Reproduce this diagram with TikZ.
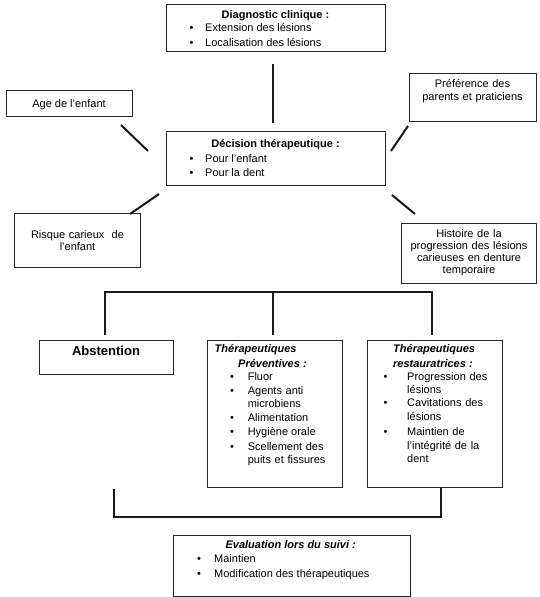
\documentclass[tikz,border=0pt]{standalone}
\usepackage{fontspec}
\setmainfont{Liberation Sans}
\begin{document}
\begin{tikzpicture}[x=1pt,y=-1pt,
  box/.style={draw=black!85, line width=1pt, anchor=north west, inner sep=0pt},
  conn/.style={line width=2pt, black!90},
  txt/.style={font=\fontsize{11}{12.5}\selectfont, inner sep=0pt},
  lft/.style={txt, anchor=base west, align=left},
  mlft/.style={txt, anchor=base west, align=left, text width=92pt},
  ctr/.style={txt, anchor=base, align=center},
  bul/.style={txt, anchor=base}
]
\useasboundingbox (0,0) rectangle (539,597);
% boxes
\node[box, minimum width=219pt, minimum height=47pt] (diag) at (166,4) {};
\node[box, minimum width=126pt, minimum height=26pt] (age) at (6,90) {};
\node[box, minimum width=127pt, minimum height=48pt] (pref) at (409,73) {};
\node[box, minimum width=219pt, minimum height=54pt] (dec) at (166,131) {};
\node[box, minimum width=126pt, minimum height=54pt] (risk) at (14,213) {};
\node[box, minimum width=135pt, minimum height=60pt] (hist) at (401,223) {};
\node[box, minimum width=134pt, minimum height=34pt] (abst) at (39,340) {};
\node[box, minimum width=135pt, minimum height=147pt] (prev) at (207,340) {};
\node[box, minimum width=135pt, minimum height=147pt] (rest) at (367,340) {};
\node[box, minimum width=237pt, minimum height=61pt] (eval) at (173,535) {};
% texts
\node[ctr, font=\fontsize{11}{12.5}\selectfont\bfseries] (diagT) at (275.5,18.3) {Diagnostic clinique :};
\node[bul] (diagB1) at (191.5,31.5) {•};
\node[lft] (diagI1) at (205,31.5) {Extension des lésions};
\node[bul] (diagB2) at (191.5,46.5) {•};
\node[lft] (diagI2) at (205,46.5) {Localisation des lésions};

\node[ctr, font=\fontsize{11}{12.5}\selectfont\bfseries] (decT) at (275.5,147) {Décision thérapeutique :};
\node[bul] (decB1) at (191.5,162.4) {•};
\node[lft] (decI1) at (205,162.4) {Pour l’enfant};
\node[bul] (decB2) at (191.5,176.2) {•};
\node[lft] (decI2) at (205,176.2) {Pour la dent};

\node[ctr] (ageT) at (69,107) {Age de l’enfant};
\node[ctr, text width=125pt, font=\fontsize{11}{13.6}\selectfont] (prefT) at (472.5,87) {Préférence des\\parents et praticiens};
\node[ctr, text width=125pt, font=\fontsize{11}{12}\selectfont] (riskT) at (77.5,238.8) {Risque carieux\ \ de\\l’enfant};
\node[ctr, text width=134pt, font=\fontsize{11}{12}\selectfont] (histT) at (469,237.8) {Histoire de la\\progression des lésions\\carieuses en denture\\temporaire};

\node[ctr, font=\fontsize{13}{15}\selectfont\bfseries] (abstT) at (106,355.5) {Abstention};

\node[lft, font=\fontsize{11}{12.5}\selectfont\bfseries\itshape] (prevT1) at (214.5,352.8) {Thérapeutiques};
\node[lft, font=\fontsize{11}{12.5}\selectfont\bfseries\itshape] (prevT2) at (238,367.3) {Préventives :};
\node[bul] (prevB1) at (232,380.3) {•};
\node[lft] (prevI1) at (247.6,380.3) {Fluor};
\node[bul] (prevB2) at (232,394.8) {•};
\node[mlft, font=\fontsize{11}{12.2}\selectfont] (prevI2) at (247.6,394.8) {Agents anti\\microbiens};
\node[bul] (prevB3) at (232,421.8) {•};
\node[lft] (prevI3) at (247.6,421.8) {Alimentation};
\node[bul] (prevB4) at (232,435.8) {•};
\node[lft] (prevI4) at (247.6,435.8) {Hygiène orale};
\node[bul] (prevB5) at (232,450.3) {•};
\node[mlft, font=\fontsize{11}{13.5}\selectfont] (prevI5) at (247.6,450.3) {Scellement des\\puits et fissures};

\node[lft, font=\fontsize{11}{12.5}\selectfont\bfseries\itshape] (restT1) at (393,352.8) {Thérapeutiques};
\node[lft, font=\fontsize{11}{12.5}\selectfont\bfseries\itshape] (restT2) at (393,367.3) {restauratrices :};
\node[bul] (restB1) at (385.5,380.3) {•};
\node[mlft, font=\fontsize{11}{13.2}\selectfont] (restI1) at (407,380.3) {Progression des\\lésions};
\node[bul] (restB2) at (385.5,406.8) {•};
\node[mlft, font=\fontsize{11}{13.8}\selectfont] (restI2) at (407,406.8) {Cavitations des\\lésions};
\node[bul] (restB3) at (385.5,435.8) {•};
\node[mlft, font=\fontsize{11}{13.5}\selectfont] (restI3) at (407,435.8) {Maintien de\\l’intégrité de la\\dent};

\node[ctr, font=\fontsize{11}{12.5}\selectfont\bfseries\itshape] (evalT) at (290.7,548.8) {Evaluation lors du suivi :};
\node[bul] (evalB1) at (199,562.8) {•};
\node[lft] (evalI1) at (214,562.8) {Maintien};
\node[bul] (evalB2) at (199,577.8) {•};
\node[lft] (evalI2) at (214,577.8) {Modification des thérapeutiques};

% connectors
\coordinate (v1) at (273,64);
\coordinate (v2) at (273,123);
\draw[conn] (v1) -- (v2);
\coordinate (a1) at (121,125);
\coordinate (a2) at (148,151);
\draw[conn] (a1) -- (a2);
\coordinate (p1) at (408,126);
\coordinate (p2) at (391,151);
\draw[conn] (p1) -- (p2);
\coordinate (r1) at (159,194);
\coordinate (r2) at (130,214);
\draw[conn] (r1) -- (r2);
\coordinate (h1) at (392,195);
\coordinate (h2) at (415,214);
\draw[conn] (h1) -- (h2);
% tree
\coordinate (bar) at (273,292);
\coordinate (ta) at (105,335);
\coordinate (tp) at (273,335);
\coordinate (tr) at (432,335);
\draw[conn] (ta) |- (bar) -| (tr);
\draw[conn] (bar) -- (tp);
% bottom bracket
\coordinate (bl) at (114,489);
\coordinate (br) at (441,488);
\draw[conn] (bl) |- (277,517) -| (br);
\end{tikzpicture}
\end{document}
